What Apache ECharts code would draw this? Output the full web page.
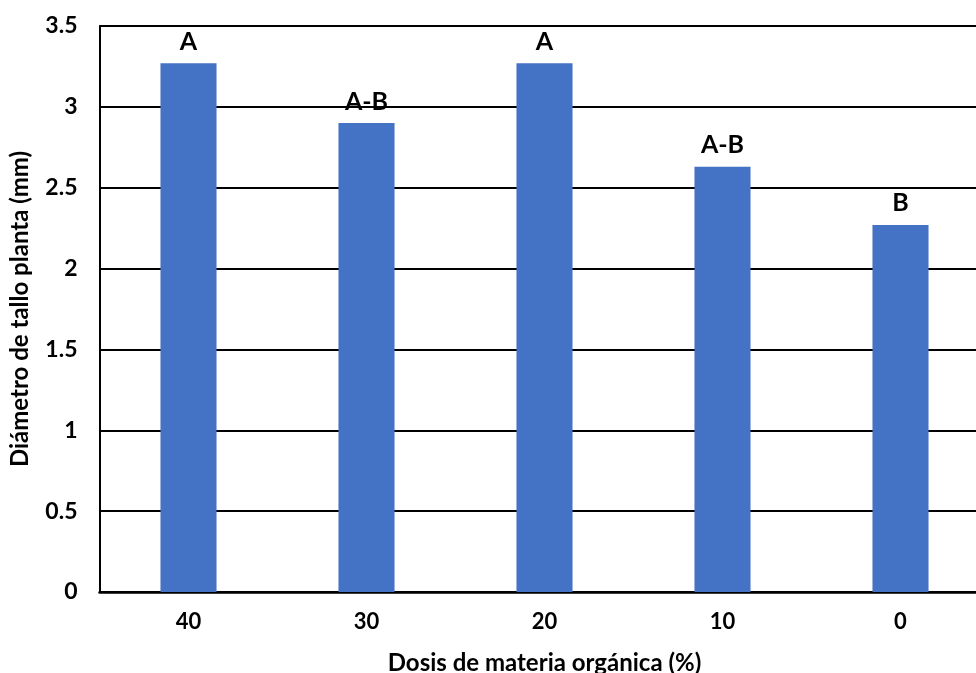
<!DOCTYPE html>
<html>
<head>
<meta charset="utf-8">
<script src="https://cdn.jsdelivr.net/npm/echarts@6/dist/echarts.min.js"></script>
<style>
  html, body { margin: 0; padding: 0; background: #fff; }
  #chart { width: 976px; height: 673px; }
</style>
</head>
<body>
<div id="chart"></div>
<script>
// Stem diameter by organic matter dose
const doses = ['40', '30', '20', '10', '0'];
const diameters = [3.27, 2.90, 3.27, 2.63, 2.27];
const groups = ['A', 'A-B', 'A', 'A-B', 'B'];
const yTicks = { min: 0, max: 3.5, interval: 0.5 };

const FONT = 'Lato, "Open Sans", sans-serif';

const chart = echarts.init(document.getElementById('chart'), null, { renderer: 'canvas' });
chart.setOption({
  animation: false,
  backgroundColor: '#ffffff',
  grid: { left: 99.5, right: -13.5, top: 26, bottom: 81, containLabel: false, outerBoundsMode: 'none' },
  xAxis: {
    type: 'category',
    data: doses,
    name: 'Dosis de materia orgánica (%)',
    nameLocation: 'middle',
    nameGap: 59,
    nameTextStyle: { fontFamily: FONT, fontWeight: 'bold', fontSize: 24, color: '#000' },
    axisLine: { lineStyle: { color: '#000', width: 2.5 } },
    axisTick: { show: false },
    axisLabel: { margin: 19, fontFamily: FONT, fontWeight: 'bold', fontSize: 22, color: '#000' }
  },
  yAxis: {
    type: 'value',
    min: yTicks.min,
    max: yTicks.max,
    interval: yTicks.interval,
    name: 'Diámetro de tallo planta (mm)',
    nameLocation: 'middle',
    nameGap: 67,
    nameTextStyle: { fontFamily: FONT, fontWeight: 'bold', fontSize: 24, color: '#000' },
    axisLine: { show: true, lineStyle: { color: '#000', width: 2 } },
    axisTick: { show: false },
    axisLabel: { margin: 22, fontFamily: FONT, fontWeight: 'bold', fontSize: 23, color: '#000' },
    splitLine: { show: true, lineStyle: { color: '#000', width: 2 } }
  },
  series: [{
    type: 'bar',
    data: diameters,
    barWidth: '31.5%',
    itemStyle: { color: '#4472C4' },
    label: {
      show: true,
      position: 'top',
      distance: 9,
      formatter: p => groups[p.dataIndex],
      fontFamily: FONT,
      fontWeight: 'bold',
      fontSize: 25,
      color: '#000'
    }
  }]
});
</script>
</body>
</html>
